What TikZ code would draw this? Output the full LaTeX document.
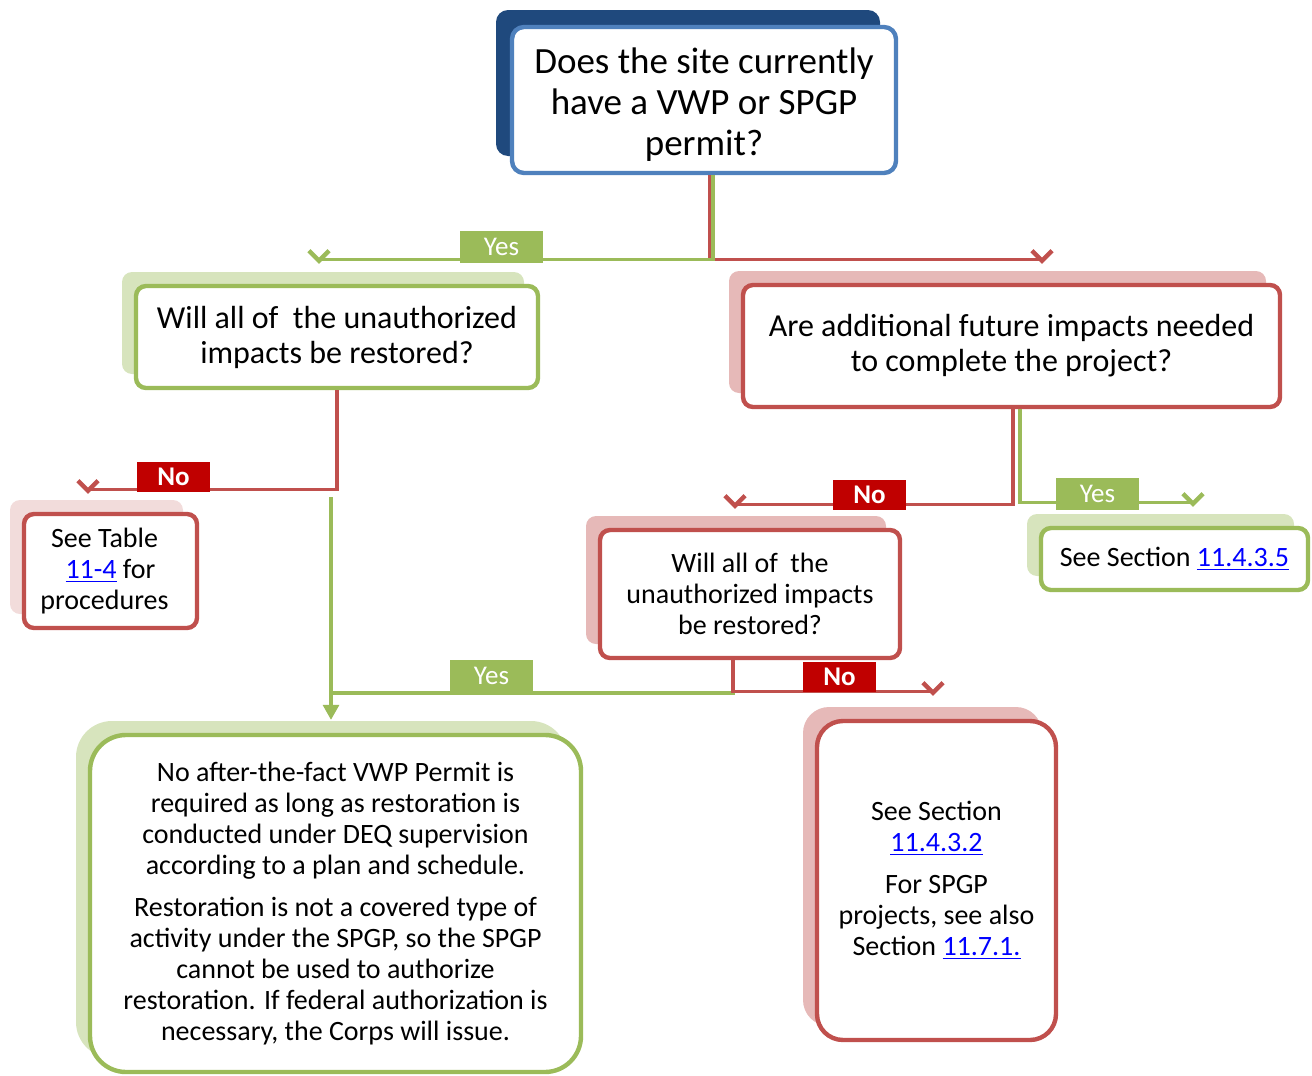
\documentclass[tikz,border=0pt]{standalone}
\usepackage{fontspec}
\setmainfont{Carlito}
\usetikzlibrary{arrows.meta}
\usetikzlibrary{shadows}
\definecolor{dblue}{HTML}{1F497D}
\definecolor{mblue}{HTML}{4F81BD}
\definecolor{lgreen}{HTML}{9BBB59}
\definecolor{pgreen}{HTML}{D7E4BD}
\definecolor{lred}{HTML}{C0504D}
\definecolor{pred}{HTML}{E6B9B8}
\definecolor{ppink}{HTML}{F2DCDB}
\definecolor{dred}{HTML}{C00000}
\definecolor{linkblue}{HTML}{0000FF}
\newcommand{\lnk}[1]{\textcolor{linkblue}{\underline{#1}}}

\begin{document}
\begin{tikzpicture}[x=0.5pt,y=-0.5pt,
  >={Straight Barb[length=5pt,width=10pt,line width=2.2pt]},
  box/.style={draw,fill=white,line width=2.2pt,align=center,inner sep=0pt,rounded corners=5pt},
  gbox/.style={box,draw=lgreen,general shadow={fill=pgreen,shadow xshift=-7pt,shadow yshift=7pt}},
  rbox/.style={box,draw=lred,general shadow={fill=#1,shadow xshift=-7pt,shadow yshift=7pt}},
  rbox/.default=pred,
  bigfont/.style={font=\fontsize{18.5}{20.5}\selectfont},
  midfont/.style={font=\fontsize{16}{17.5}\selectfont},
  smallfont/.style={font=\fontsize{14}{15.5}\selectfont},
  gline/.style={draw=lgreen,line width=1.6pt},
  rline/.style={draw=lred,line width=1.6pt},
  yeslab/.style={fill=lgreen,text=white,minimum width=41.5pt,minimum height=16pt,inner sep=0pt,font=\fontsize{13.5}{15}\selectfont},
  nolab/.style={fill=dred,text=white,minimum width=36.5pt,minimum height=15pt,inner sep=0pt,font=\bfseries\fontsize{13.5}{15}\selectfont}]
\useasboundingbox (0,0) rectangle (1312,1076);

\node (q1) [box,draw=mblue,rounded corners=6pt,bigfont,minimum width=192pt,minimum height=73pt,
  general shadow={fill=dblue,shadow xshift=-8pt,shadow yshift=8.5pt}] at (704,100)
  {\rule{0pt}{17pt}Does the site currently\\have a VWP or SPGP\\permit?};
\node (q2) [gbox,midfont,minimum width=201pt,minimum height=51pt] at (337,337)
  {Will all of\ \ the unauthorized\\impacts be restored?};
\node (q3) [rbox,midfont,minimum width=268.5pt,minimum height=61pt] at (1011.5,346)
  {Are additional future impacts needed\\to complete the project?};
\node (tbl) [rbox=ppink,smallfont,minimum width=86.5pt,minimum height=57pt] at (110.5,571)
  {See Table\hspace*{6pt}\\\lnk{11-4} for\hspace*{6pt}\\procedures\hspace*{6pt}};
\node (q4) [rbox,smallfont,minimum width=150pt,minimum height=64pt] at (750,594)
  {Will all of\ \ the\\unauthorized impacts\\be restored?};
\node (sec) [gbox,smallfont,minimum width=133.5pt,minimum height=31pt] at (1174.5,559)
  {See Section \lnk{11.4.3.5}};
\node (noafter) [gbox,smallfont,rounded corners=18pt,minimum width=245.5pt,minimum height=168.5pt] at (335.5,903.5)
  {No after-the-fact VWP Permit is\\required as long as restoration is\\conducted under DEQ supervision\\according to a plan and schedule.\\[5.5pt]
   Restoration is not a covered type of\\activity under the SPGP, so the SPGP\\cannot be used to authorize\\restoration. If federal authorization is\\necessary, the Corps will issue.};
\node (see432) [rbox,smallfont,rounded corners=13pt,minimum width=119.5pt,minimum height=159.5pt] at (936.5,880.5)
  {See Section\\\lnk{11.4.3.2}\\[5.5pt]For SPGP\\projects, see also\\Section \lnk{11.7.1.}};

\coordinate (gsplit) at (331,497);
\coordinate (gjoin) at (331,693);

\draw [rline,->] ([xshift=3pt]q1.south) |- ([xshift=15.25pt,yshift=11.5pt]q3.north) -- ([xshift=15.25pt,yshift=9.5pt]q3.north);
\draw [gline,->] ([xshift=4.5pt]q1.south) |- ([xshift=-9pt,yshift=12pt]q2.north) -- ([xshift=-9pt,yshift=10pt]q2.north);
\draw [rline,->] (q2.south) |- ([xshift=-11.25pt,yshift=11pt]tbl.north) -- ([xshift=-11.25pt,yshift=9pt]tbl.north);
\draw [gline,-{Triangle[length=7.5pt,width=8pt]}] (gsplit) -- ([xshift=-2.25pt,yshift=6.5pt]noafter.north);
\draw [rline,->] ([xshift=0.75pt]q3.south) |- ([xshift=-7.5pt,yshift=11.5pt]q4.north) -- ([xshift=-7.5pt,yshift=9.5pt]q4.north);
\draw [gline,->] ([xshift=4.25pt]q3.south) |- ([xshift=9.25pt,yshift=11.5pt]sec.north) -- ([xshift=9.25pt,yshift=9.5pt]sec.north);
\draw [gline] ([xshift=-8.5pt]q4.south) |- (gjoin);
\draw [rline,->] ([xshift=-8.5pt]q4.south) |- ([xshift=-1.75pt,yshift=13.5pt]see432.north) -- ([xshift=-1.75pt,yshift=11.5pt]see432.north);

\node (yes1) [yeslab] at (501.5,247) {Yes};
\node (no1) [nolab] at (173.5,477) {No};
\node (no2) [nolab] at (869.5,495) {No};
\node (yes2) [yeslab] at (1097.5,494) {Yes};
\node (yes3) [yeslab] at (491.5,675.5) {Yes};
\node (no3) [nolab] at (839.5,677) {No};
\end{tikzpicture}
\end{document}
